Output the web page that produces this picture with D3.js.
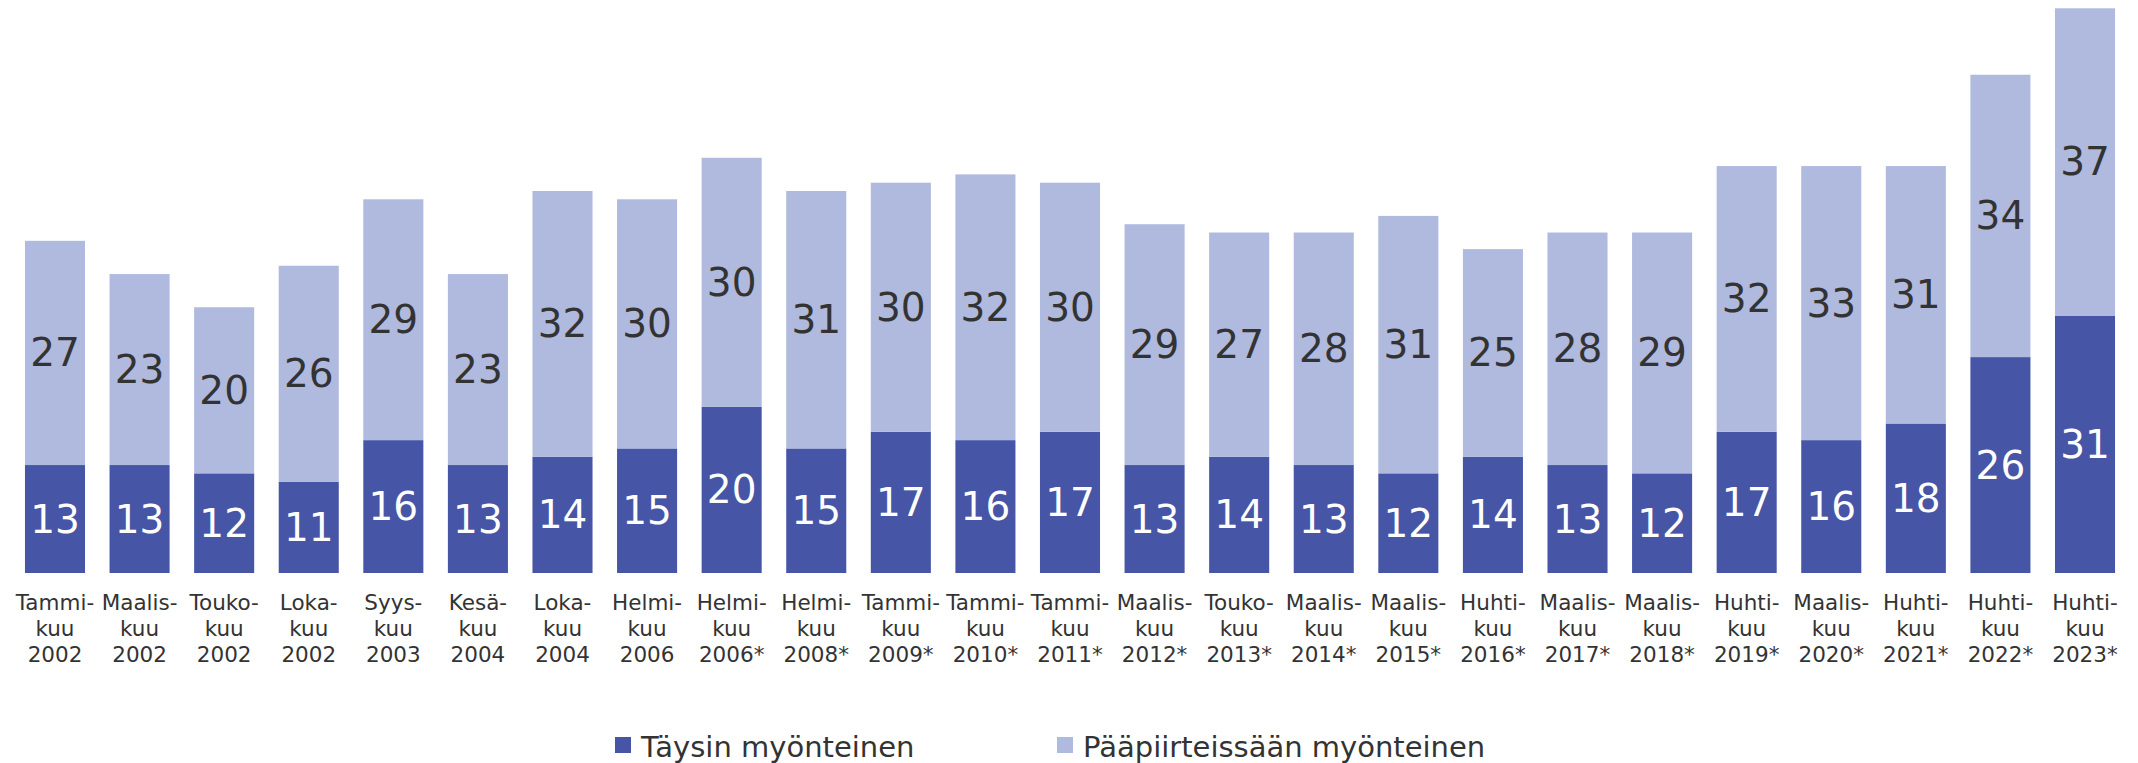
<!DOCTYPE html>
<html>
<head>
<meta charset="utf-8">
<script src="https://cdn.jsdelivr.net/npm/d3@7"></script>
<style>
  body { margin: 0; background: #fff; }
  svg { display: block; font-family: "DejaVu Sans", Verdana, sans-serif; }
</style>
</head>
<body>
<script>
// data
const months = ['Tammi', 'Maalis', 'Touko', 'Loka', 'Syys', 'Kesä', 'Loka', 'Helmi', 'Helmi', 'Helmi',
    'Tammi', 'Tammi', 'Tammi', 'Maalis', 'Touko', 'Maalis', 'Maalis', 'Huhti', 'Maalis', 'Maalis',
    'Huhti', 'Maalis', 'Huhti', 'Huhti', 'Huhti'];
const years = ['2002', '2002', '2002', '2002', '2003', '2004', '2004', '2006', '2006*', '2008*',
    '2009*', '2010*', '2011*', '2012*', '2013*', '2014*', '2015*', '2016*', '2017*', '2018*',
    '2019*', '2020*', '2021*', '2022*', '2023*'];
const taysin = [13, 13, 12, 11, 16, 13, 14, 15, 20, 15, 17, 16, 17, 13, 14, 13, 12, 14, 13, 12, 17, 16, 18, 26, 31];
const paapiirteissaan = [27, 23, 20, 26, 29, 23, 32, 30, 30, 31, 30, 32, 30, 29, 27, 28, 31, 25, 28, 29, 32, 33, 31, 34, 37];
const seriesNames = ['Täysin myönteinen', 'Pääpiirteissään myönteinen'];

const colors = ['#4655a5', '#b0b9de'];
const textColors = ['#ffffff', '#333333'];

const W = 2138, H = 763;

const svg = d3.select('body').append('svg')
    .attr('width', W)
    .attr('height', H);

const rows = years.map((y, i) => ({
    key: i,
    month: months[i],
    year: y,
    a: taysin[i],
    b: paapiirteissaan[i]
}));

const x = d3.scaleBand()
    .domain(rows.map(d => d.key))
    .range([12.7, 2127.3])
    .paddingInner(0.29)
    .paddingOuter(0.145);

const y = d3.scaleLinear()
    .domain([0, 69])
    .range([573, 0]);

const stacked = d3.stack().keys(['a', 'b'])(rows);

const layer = svg.selectAll('g.layer')
    .data(stacked)
    .join('g')
    .attr('class', 'layer')
    .attr('fill', (d, i) => colors[i]);

layer.selectAll('rect')
    .data(d => d)
    .join('rect')
    .attr('x', d => x(d.data.key))
    .attr('y', d => y(d[1]))
    .attr('width', x.bandwidth())
    .attr('height', d => y(d[0]) - y(d[1]));

// value labels
const lbl = svg.selectAll('g.lbl')
    .data(stacked)
    .join('g')
    .attr('class', 'lbl')
    .attr('fill', (d, i) => textColors[i]);

lbl.selectAll('text')
    .data(d => d)
    .join('text')
    .attr('x', d => x(d.data.key) + x.bandwidth() / 2)
    .attr('y', d => (y(d[0]) + y(d[1])) / 2)
    .attr('text-anchor', 'middle')
    .attr('dominant-baseline', 'central')
    .attr('font-size', 39)
    .text(d => d[1] - d[0]);

// category labels, three lines each
const cat = svg.append('g')
    .selectAll('text')
    .data(rows)
    .join('text')
    .attr('text-anchor', 'middle')
    .attr('font-size', 21.5)
    .attr('fill', '#333');

cat.append('tspan')
    .attr('x', d => x(d.key) + x.bandwidth() / 2)
    .attr('y', 610)
    .text(d => d.month + '-');
cat.append('tspan')
    .attr('x', d => x(d.key) + x.bandwidth() / 2)
    .attr('y', 636)
    .text('kuu');
cat.append('tspan')
    .attr('x', d => x(d.key) + x.bandwidth() / 2)
    .attr('y', 662)
    .text(d => d.year);

// legend
const legendX = [615, 1057];
const leg = svg.append('g')
    .selectAll('g')
    .data(seriesNames)
    .join('g')
    .attr('transform', (d, i) => `translate(${legendX[i]},737)`);

leg.append('rect')
    .attr('width', 16)
    .attr('height', 16)
    .attr('fill', (d, i) => colors[i]);

leg.append('text')
    .attr('x', 26)
    .attr('y', 20)
    .attr('font-size', 29)
    .attr('fill', '#333')
    .text(d => d);
</script>
</body>
</html>
